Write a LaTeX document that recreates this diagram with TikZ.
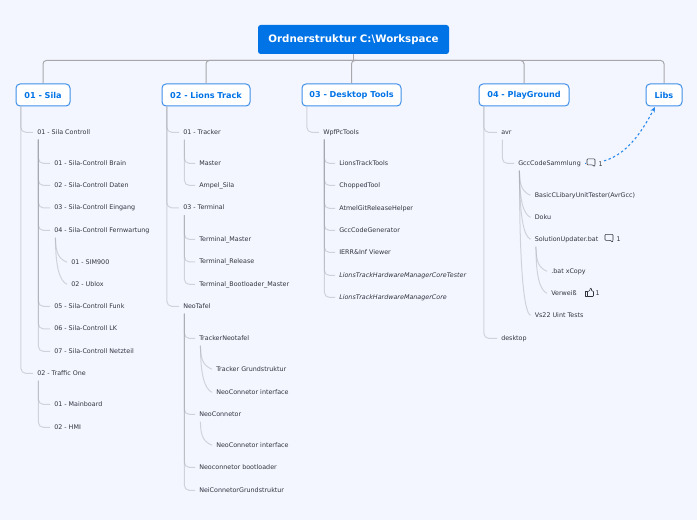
\documentclass[tikz,border=0pt]{standalone}
\usepackage{fontspec}
\setmainfont{DejaVu Sans}
\usetikzlibrary{arrows.meta,positioning}
\definecolor{pagebg}{HTML}{F3F6FF}
\definecolor{mainblue}{HTML}{0073E6}
\definecolor{boxline}{HTML}{3F8FE8}
\definecolor{itemtext}{HTML}{30343E}
\definecolor{barline}{HTML}{A8A8AC}
\definecolor{twigline}{HTML}{A6A8B0}
\tikzstyle{rootbox} = [fill=mainblue,text=white,rounded corners=2pt,font=\bfseries\fontsize{7.7}{9}\selectfont,minimum width=143.25pt,minimum height=21.75pt,inner sep=0pt]
\tikzstyle{topicbox} = [draw=boxline,fill=white,text=mainblue,line width=0.75pt,rounded corners=3pt,font=\bfseries\fontsize{6.1}{8}\selectfont,minimum height=16.5pt,inner sep=0pt]
\tikzstyle{item} = [anchor=west,yshift=-0.6pt,text=itemtext,font=\fontsize{4.78}{6}\selectfont,inner xsep=3pt,inner ysep=0pt,minimum height=10.5pt,text height=3.6pt,text depth=1pt]
\tikzstyle{bar} = [barline,line width=0.75pt,rounded corners=2.5pt]
\tikzstyle{twig} = [twigline,opacity=0.45,line width=0.75pt,rounded corners=3.5pt]
\tikzstyle{linkline} = [-{Stealth[length=4pt,width=3.5pt]},mainblue!85!white,line width=0.8pt,dash pattern=on 1.8pt off 1.8pt]
\tikzstyle{iconline} = [itemtext,line width=0.42pt,line join=round]
% straight and bent connectors from the foot of a parent
\newcommand{\twig}[2]{\draw[twig] ([xshift=4.1pt]#1.south west) |- (#2.west);}
\newcommand{\bend}[2]{\draw[twig] ([xshift=4.1pt]#1.south west) to[out=-90,in=155,out looseness=1.6,in max distance=6pt] (#2.west);}

\begin{document}
\begin{tikzpicture}[x=0.75pt,y=-0.75pt]
	\fill[pagebg] (0,0) rectangle (697,520);

	\node[rootbox] (root) at (353.5,39.5) {Ordnerstruktur C:\textbackslash Workspace};
	\coordinate (bus) at (353.5,60.5);
	\coordinate (libsin) at (655,107);

	\node[topicbox,minimum width=40.5pt] (sila) at (43,95) {01 - Sila};
	\node[topicbox,minimum width=66pt] (lions) at (206,95) {02 - Lions Track};
	\node[topicbox,minimum width=74.25pt] (desk) at (351.5,95) {03 - Desktop Tools};
	\node[topicbox,minimum width=67.5pt] (play) at (524,95) {04 - PlayGround};
	\node[topicbox,minimum width=27pt] (libs) at (664,95) {Libs};

	\draw[bar] (root.south) -- (bus);
	\foreach \topic in {sila,lions,desk,play,libs}
		\draw[bar] (bus) -| (\topic.north);

	% 01 - Sila
	\node[item] (sc) at (33,131.5) {01 - Sila Controll};
	\node[item] (sc1) at (50,162.5) {01 - Sila-Controll Brain};
	\node[item] (sc2) at (50,184.5) {02 - Sila-Controll Daten};
	\node[item] (sc3) at (50,207) {03 - Sila-Controll Eingang};
	\node[item] (sc4) at (50,229.5) {04 - Sila-Controll Fernwartung};
	\node[item] (sc41) at (67,261.5) {01 - SIM900};
	\node[item] (sc42) at (67,283.5) {02 - Ublox};
	\node[item] (sc5) at (50,305.5) {05 - Sila-Controll Funk};
	\node[item] (sc6) at (50,328) {06 - Sila-Controll LK};
	\node[item] (sc7) at (50,350.5) {07 - Sila-Controll Netzteil};
	\node[item] (tr) at (33,372.5) {02 - Traffic One};
	\node[item] (tr1) at (50,403.5) {01 - Mainboard};
	\node[item] (tr2) at (50,426.5) {02 - HMI};

	\foreach \child in {sc,tr} {\twig{sila}{\child}}
	\foreach \child in {sc1,sc2,sc3,sc4,sc5,sc6,sc7} {\twig{sc}{\child}}
	\foreach \child in {sc41,sc42} {\bend{sc4}{\child}}
	\foreach \child in {tr1,tr2} {\twig{tr}{\child}}

	% 02 - Lions Track
	\node[item] (trk) at (179,131.5) {01 - Tracker};
	\node[item] (mas) at (195,162.5) {Master};
	\node[item] (amp) at (195,184.5) {Ampel\_Sila};
	\node[item] (ter) at (179,207) {03 - Terminal};
	\node[item] (ter1) at (195,238.5) {Terminal\_Master};
	\node[item] (ter2) at (195,261) {Terminal\_Release};
	\node[item] (ter3) at (195,283.5) {Terminal\_Bootloader\_Master};
	\node[item] (neo) at (179,305.5) {NeoTafel};
	\node[item] (ntr) at (195,337.5) {TrackerNeotafel};
	\node[item] (ntr1) at (212,368.5) {Tracker Grundstruktur};
	\node[item] (ntr2) at (212,391.5) {NeoConnetor interface};
	\node[item] (nco) at (195,413.5) {NeoConnetor};
	\node[item] (nco1) at (212,444.5) {NeoConnetor interface};
	\node[item] (nbo) at (195,466.5) {Neoconnetor bootloader};
	\node[item] (ngr) at (195,489.5) {NeiConnetorGrundstruktur};

	\foreach \child in {trk,ter,neo} {\twig{lions}{\child}}
	\foreach \child in {mas,amp} {\twig{trk}{\child}}
	\foreach \child in {ter1,ter2,ter3} {\twig{ter}{\child}}
	\foreach \child in {ntr,nco,nbo,ngr} {\twig{neo}{\child}}
	\foreach \child in {ntr1,ntr2} {\bend{ntr}{\child}}
	\bend{nco}{nco1}

	% 03 - Desktop Tools
	\node[item] (wpf) at (319,131.5) {WpfPcTools};
	\node[item] (wp1) at (335,162.5) {LionsTrackTools};
	\node[item] (wp2) at (335,184.5) {ChoppedTool};
	\node[item] (wp3) at (335,207.5) {AtmelGitReleaseHelper};
	\node[item] (wp4) at (335,229.5) {GccCodeGenerator};
	\node[item] (wp5) at (335,251.5) {IERR\&Inf Viewer};
	\node[item] (wp6) at (335,274.5) {\itshape LionsTrackHardwareManagerCoreTester};
	\node[item] (wp7) at (335,296.5) {\itshape LionsTrackHardwareManagerCore};

	\twig{desk}{wpf}
	\foreach \child in {wp1,wp2,wp3,wp4,wp5,wp6,wp7} {\twig{wpf}{\child}}

	% 04 - PlayGround
	\node[item] (avr) at (497,131.5) {avr};
	\node[item] (gcc) at (514,162.5) {GccCodeSammlung};
	\node[item] (gc1) at (530.5,194.5) {BasicCLibaryUnitTester(AvrGcc)};
	\node[item] (gc2) at (530.5,216.5) {Doku};
	\node[item] (gc3) at (530.5,238.5) {SolutionUpdater.bat};
	\node[item] (gc31) at (547,270.5) {.bat xCopy};
	\node[item] (gc32) at (547,292.5) {Verweiß};
	\node[item] (gc4) at (530.5,314.5) {Vs22 Uint Tests};
	\node[item] (dsk) at (497,337.5) {desktop};

	\foreach \child in {avr,dsk} {\twig{play}{\child}}
	\twig{avr}{gcc}
	\foreach \child in {gc1,gc2,gc3,gc4} {\bend{gcc}{\child}}
	\foreach \child in {gc31,gc32} {\bend{gc3}{\child}}

	\draw[linkline] (gcc.east) to[out=-2,in=-118] (libsin);

	% comment and like marks
	\fill[pagebg] (585.5,157) rectangle (603,169);
	\node[item,inner xsep=0.6pt] (n1) at (597.5,163.5) {1};
	\node[item,inner xsep=0.6pt] (n2) at (615.5,239) {1};
	\node[item,inner xsep=0.6pt] (n3) at (594.5,293) {1};
	\foreach \ix/\iy in {591/162.5,609/238} {
		\begin{scope}[shift={(\ix,\iy)}]
			\draw[iconline,fill=pagebg,rounded corners=0.6pt] (-4,-3.6) -- (4,-3.6) -- (4,2.4) -- (3.4,4.2) -- (1.6,2.4) -- (-4,2.4) -- cycle;
		\end{scope}
	}
	\draw[iconline] (585.5,291.5) rectangle (587.5,296.5);
	\draw[iconline,rounded corners=0.5pt] (587.5,291.5) -- (589.5,291) -- (590.5,288) -- (591.5,288.5) -- (591.5,291) -- (593.5,291) -- (593.5,296.5) -- (587.5,296.5);
\end{tikzpicture}
\end{document}
